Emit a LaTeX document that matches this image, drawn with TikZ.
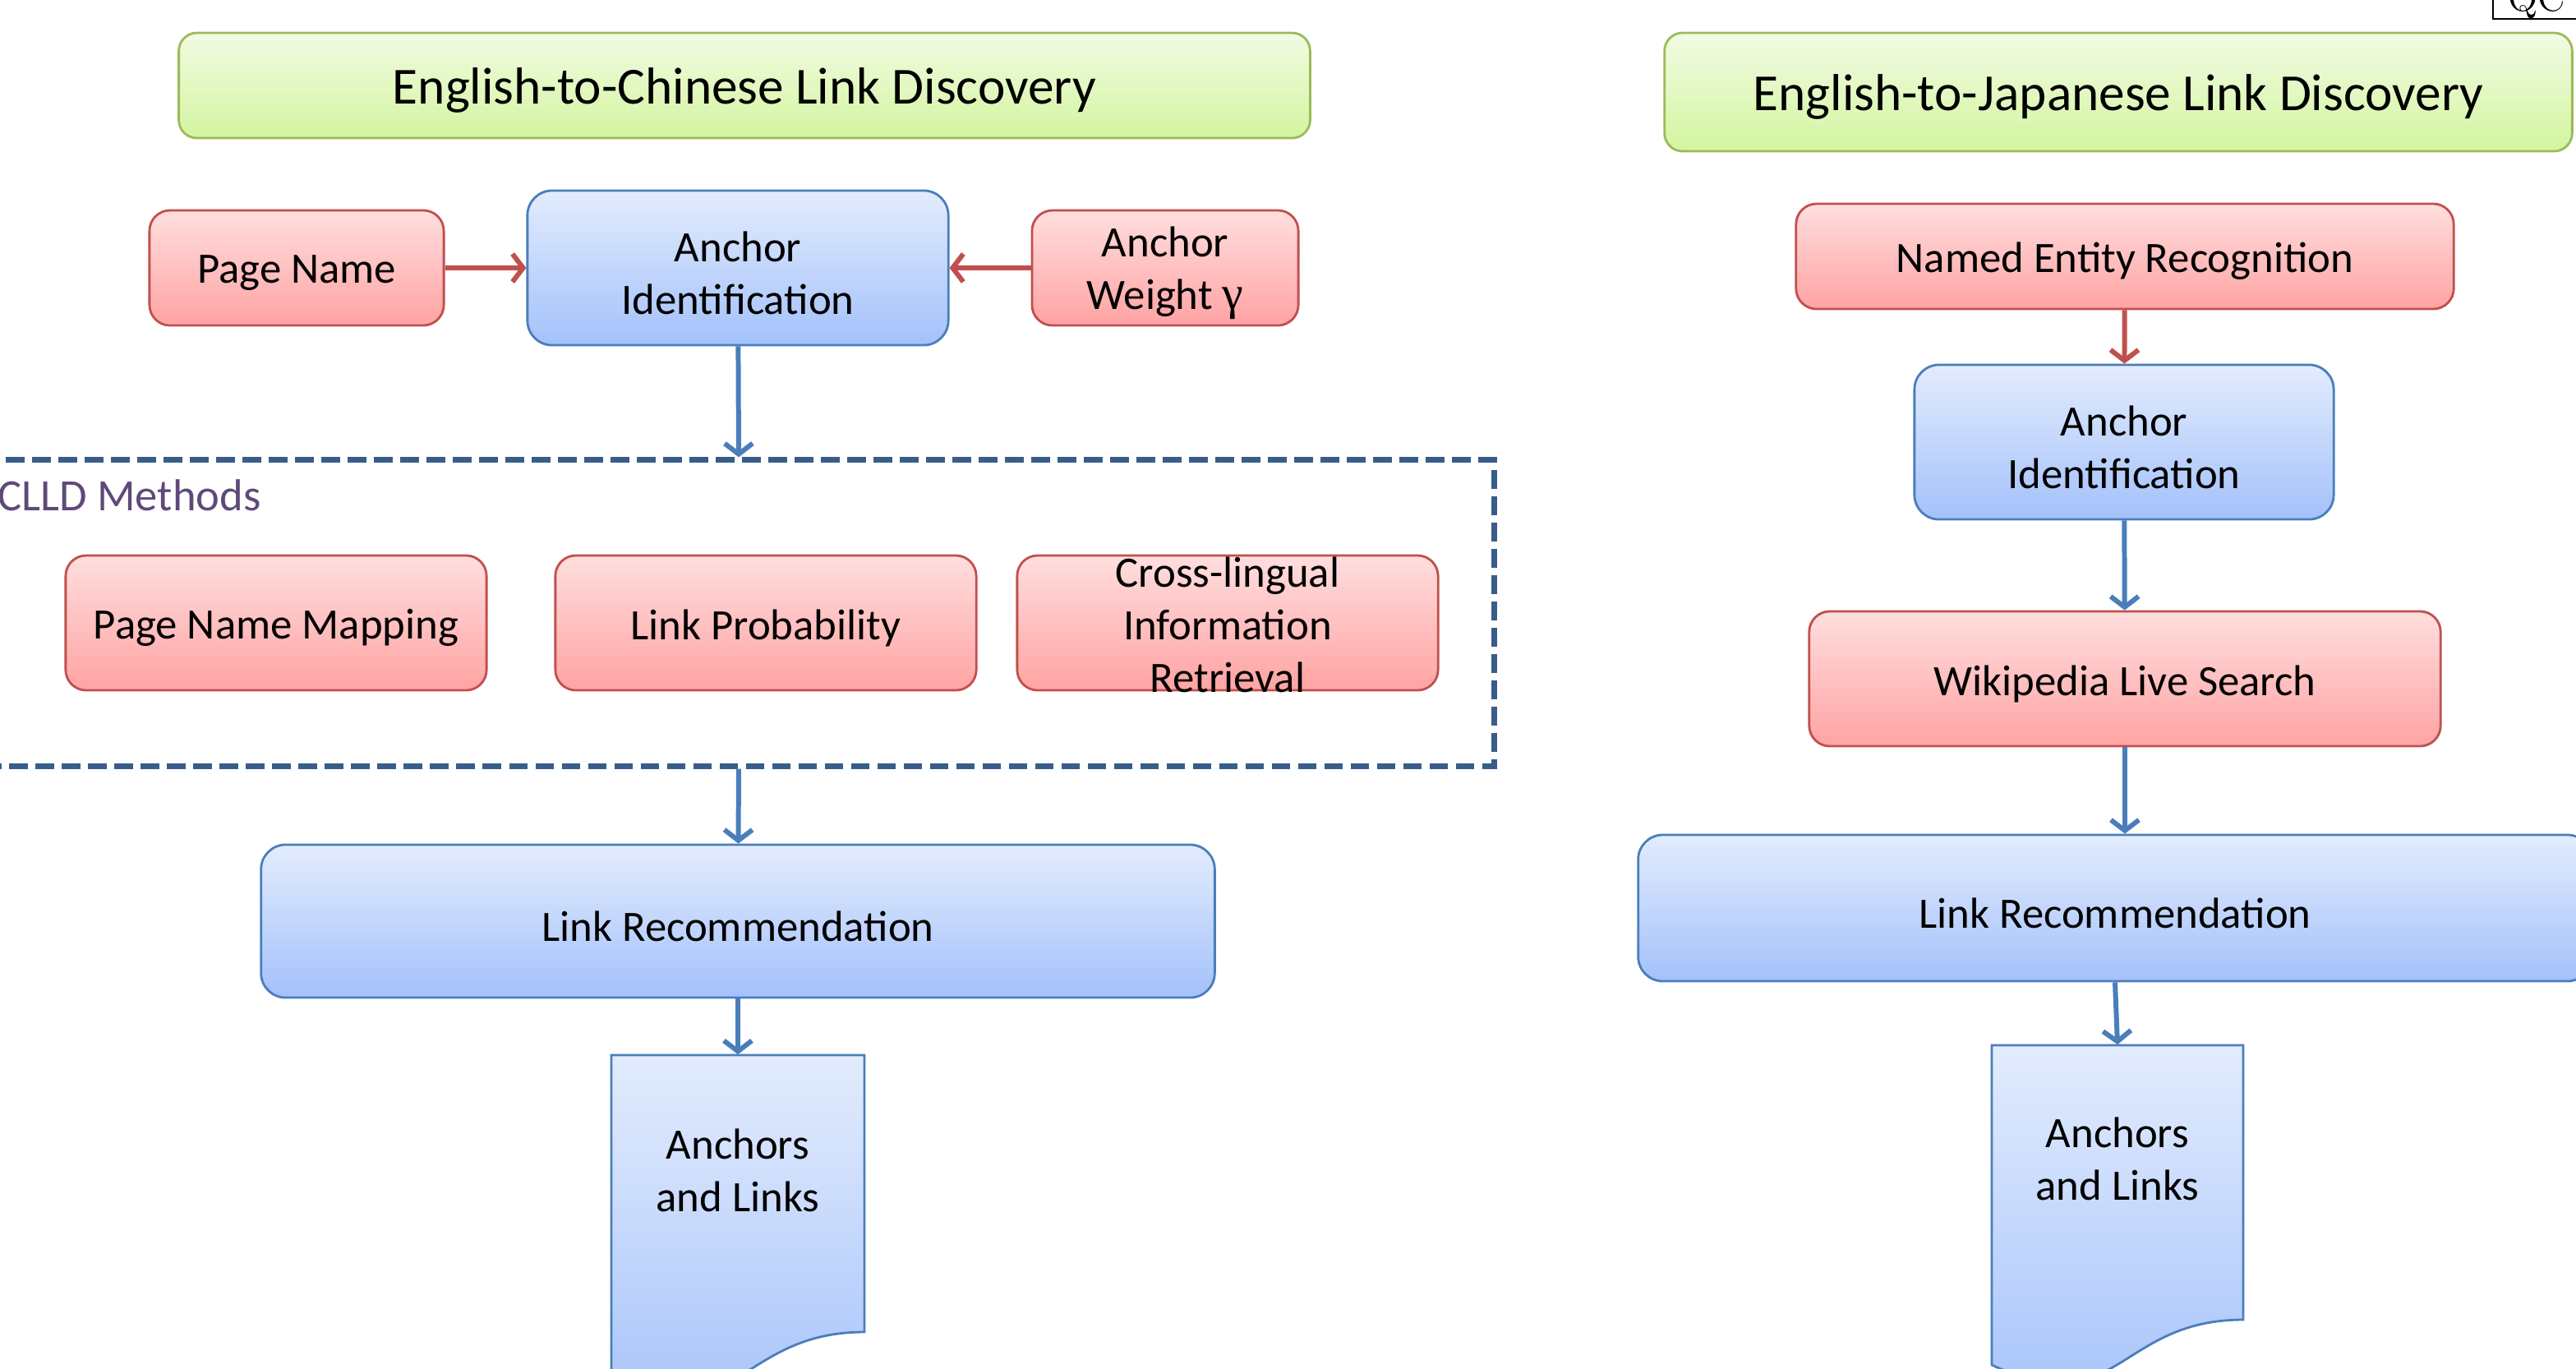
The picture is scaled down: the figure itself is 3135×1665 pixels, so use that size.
\documentclass[tikz,border=0pt]{standalone}
\usepackage{fontspec}
\setmainfont{Carlito}
\newfontfamily\gfont{Liberation Serif}
\newfontfamily\lmfont{Latin Modern Roman}
\usetikzlibrary{arrows.meta,calc}
\definecolor{bluebd}{HTML}{4A7EBB}
\definecolor{blueT}{HTML}{E3ECFD}
\definecolor{blueB}{HTML}{A3C1FB}
\definecolor{redbd}{HTML}{C0504D}
\definecolor{redT}{HTML}{FFDEDE}
\definecolor{redB}{HTML}{FFA3A3}
\definecolor{greenbd}{HTML}{9BBB59}
\definecolor{greenT}{HTML}{F2FBE3}
\definecolor{greenB}{HTML}{D3F5A0}
\definecolor{dashc}{HTML}{385D8A}
\definecolor{purp}{HTML}{5F497A}
\tikzset{
  txt/.style={font=\fontsize{15}{18.2}\selectfont, align=center, text=black, inner sep=0pt},
  lab/.style={txt, yshift=-0.06cm},
  tlab/.style={font=\fontsize{18}{21}\selectfont, text=black, inner sep=0pt, yshift=-0.06cm},
  bluebox/.style={draw=bluebd, line width=0.8pt, inner sep=0pt, top color=blueT, bottom color=blueB, rounded corners=0.3cm},
  redbox/.style={draw=redbd, line width=0.8pt, inner sep=0pt, top color=redT, bottom color=redB, rounded corners=0.25cm},
  titlebox/.style={inner sep=0pt, draw=greenbd, line width=0.8pt, top color=greenT, bottom color=greenB, rounded corners=0.22cm},
  arrB/.style={draw=bluebd, line width=1.7pt, -{Straight Barb[length=1.3mm,width=3.4mm]}},
  arrR/.style={draw=redbd, line width=1.7pt, -{Straight Barb[length=1.3mm,width=3.4mm]}},
  docshape/.style={draw=bluebd, line width=0.8pt, top color=blueT, bottom color=blueB},
}
\begin{document}
\begin{tikzpicture}[x=0.01cm, y=-0.01cm]
\useasboundingbox (0,0) rectangle (3135,1665);

% ---------- Left: English-to-Chinese ----------
\node[titlebox, minimum width=13.76cm, minimum height=1.28cm,
  label={[tlab]center:English-to-Chinese Link Discovery}] (titleL) at (906,104) {};
\node[redbox, minimum width=3.58cm, minimum height=1.40cm,
  label={[lab]center:Page Name}] (pn) at (361,326) {};
\node[bluebox, minimum width=5.12cm, minimum height=1.88cm,
  label={[lab]center:{Anchor\\Identification}}] (aidL) at (898,326) {};
\node[redbox, minimum width=3.24cm, minimum height=1.40cm,
  label={[lab]center:{Anchor\\Weight {\gfont\fontsize{16.5}{18.2}\selectfont γ}}}] (aw) at (1418,326) {};

\node[draw=dashc, line width=2pt, dash pattern=on 6.5pt off 2.6pt, inner sep=0pt, minimum width=18.38cm, minimum height=3.72cm] (clld) at (899,746) {};
\node[anchor=west, font=\fontsize{15.5}{18}\selectfont, text=purp, inner sep=0pt] (clldlab) at (-3,603) {CLLD Methods};

\node[redbox, minimum width=5.12cm, minimum height=1.64cm,
  label={[lab]center:Page Name Mapping}] (pnm) at (336,758) {};
\node[redbox, minimum width=5.12cm, minimum height=1.64cm,
  label={[lab]center:Link Probability}] (lp) at (932,758) {};
\node[redbox, minimum width=5.12cm, minimum height=1.64cm] (clir) at (1494,758) {};
\node[txt] (clirt) at (1494,760) {Cross-lingual\\Information\\Retrieval};

\node[bluebox, minimum width=11.60cm, minimum height=1.86cm,
  label={[lab]center:Link Recommendation}] (lrL) at (898,1121) {};

\node[inner sep=0pt, minimum width=3.08cm, minimum height=4.20cm] (docL) at (898,1494) {};
\path[docshape] (744,1284) -- (1052,1284) -- (1052,1621)
  .. controls (898,1621) and (898,1749) .. (744,1676) -- cycle;
\node[txt] (docLt) at (898,1424) {Anchors\\and Links};

\draw[arrR] (pn) -- (aidL);
\draw[arrR] (aw) -- (aidL);
\draw[arrB] (aidL) -- (clld.north);
\draw[arrB] (clld.south) -- (lrL);
\draw[arrB] (lrL) -- (docL);

% ---------- Right: English-to-Japanese ----------
\node[titlebox, minimum width=11.04cm, minimum height=1.44cm,
  label={[tlab]center:English-to-Japanese Link Discovery}] (titleR) at (2578,112) {};
\node[redbox, minimum width=8.00cm, minimum height=1.28cm,
  label={[lab]center:Named Entity Recognition}] (ner) at (2586,312) {};
\node[bluebox, minimum width=5.10cm, minimum height=1.88cm,
  label={[lab]center:{Anchor\\Identification}}] (aidR) at (2585,538) {};
\node[redbox, minimum width=7.68cm, minimum height=1.64cm,
  label={[lab]center:Wikipedia Live Search}] (wls) at (2586,826) {};
\node[bluebox, minimum width=11.60cm, minimum height=1.78cm,
  label={[lab]center:Link Recommendation}] (lrR) at (2574,1105) {};

\node[inner sep=0pt, minimum width=3.06cm, minimum height=4.16cm] (docR) at (2577,1480) {};
\path[docshape] (2424,1272) -- (2730,1272) -- (2730,1606)
  .. controls (2577,1606) and (2577,1733) .. (2424,1661) -- cycle;
\node[txt] (docRt) at (2577,1410) {Anchors\\and Links};

\draw[arrR] (ner) -- (aidR);
\draw[arrB] (aidR) -- (wls);
\draw[arrB] (wls.south) -- (wls.south |- lrR.north);
\draw[arrB] (lrR.south) -- (docR.north);

% ---------- top-right fragment ----------
\node[draw=black, line width=0.7pt, anchor=south west, inner sep=0pt, minimum width=3cm, minimum height=1cm] (qbox) at (3033,24) {};
\node[anchor=base west, inner sep=0pt, font=\lmfont\fontsize{13.5}{14}\selectfont] (qtext) at (3052,13) {QC};
\end{tikzpicture}
\end{document}
